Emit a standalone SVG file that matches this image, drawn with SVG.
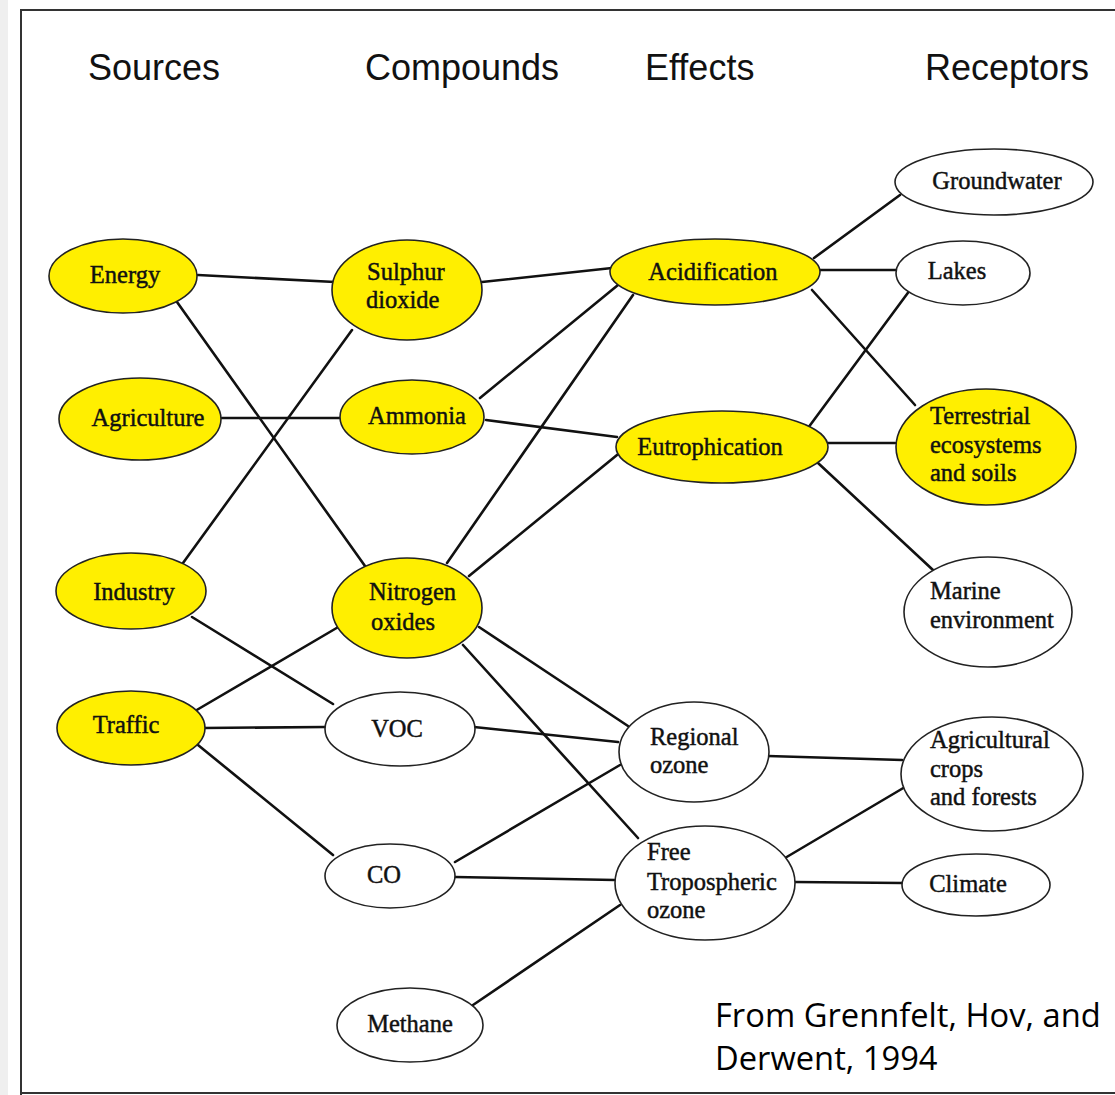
<svg xmlns="http://www.w3.org/2000/svg" width="1115" height="1095" viewBox="0 0 1115 1095">
<style>
.frame{stroke:#333;stroke-width:2;fill:none}
.hdr{font-family:"Liberation Sans",Arial,sans-serif;font-size:36px;fill:#111}
.cap{font-family:"Open Sans","Liberation Sans",sans-serif;font-size:32.7px;fill:#000}
.lbl{font-family:"Liberation Serif","Times New Roman",serif;font-size:24.5px;fill:#111;stroke:#111;stroke-width:0.45}
.mid{text-anchor:middle}
.y{fill:#FFEF00;stroke:#222;stroke-width:1.6}
.w{fill:#fff;stroke:#222;stroke-width:1.6}
#connectors line{stroke:#111;stroke-width:2.6;stroke-linecap:round}
</style>
<rect x="0" y="0" width="1115" height="1095" fill="#fff"/>
<rect x="0" y="0" width="8" height="1095" fill="#efefef"/>
<path class="frame" d="M1115 10 H21 V1095 M21 1093 H1115"/>
<g id="headers">
<text class="hdr" x="88" y="80">Sources</text>
<text class="hdr" x="365" y="80">Compounds</text>
<text class="hdr" x="645" y="80">Effects</text>
<text class="hdr" x="925" y="80">Receptors</text>
</g>
<g id="connectors">
<line x1="198" y1="275" x2="335" y2="282"/>
<line x1="177" y1="302" x2="365" y2="566"/>
<line x1="222" y1="418" x2="342" y2="418"/>
<line x1="183" y1="563" x2="352" y2="330"/>
<line x1="192" y1="617" x2="333" y2="704"/>
<line x1="195" y1="711" x2="340" y2="626"/>
<line x1="203" y1="728" x2="325" y2="727"/>
<line x1="198" y1="745" x2="333" y2="855"/>
<line x1="482" y1="282" x2="612" y2="268"/>
<line x1="480" y1="398" x2="618" y2="285"/>
<line x1="486" y1="420" x2="617" y2="437"/>
<line x1="447" y1="563" x2="633" y2="295"/>
<line x1="469" y1="576" x2="617" y2="455"/>
<line x1="479" y1="627" x2="628" y2="726"/>
<line x1="463" y1="645" x2="638" y2="838"/>
<line x1="474" y1="727" x2="618" y2="742"/>
<line x1="455" y1="862" x2="620" y2="765"/>
<line x1="455" y1="877" x2="615" y2="880"/>
<line x1="473" y1="1005" x2="620" y2="905"/>
<line x1="814" y1="258" x2="900" y2="195"/>
<line x1="818" y1="270" x2="897" y2="270"/>
<line x1="812" y1="290" x2="915" y2="405"/>
<line x1="808" y1="428" x2="910" y2="290"/>
<line x1="828" y1="443" x2="895" y2="443"/>
<line x1="818" y1="463" x2="933" y2="570"/>
<line x1="768" y1="756" x2="902" y2="760"/>
<line x1="785" y1="858" x2="905" y2="787"/>
<line x1="795" y1="882" x2="902" y2="883"/>
</g>
<g id="energy"><ellipse class="y" cx="123" cy="276" rx="74" ry="37"/><text class="lbl mid" x="125" y="283">Energy</text></g>
<g id="agriculture"><ellipse class="y" cx="140" cy="419" rx="81" ry="41"/><text class="lbl mid" x="148" y="426">Agriculture</text></g>
<g id="industry"><ellipse class="y" cx="131" cy="591" rx="75" ry="38"/><text class="lbl mid" x="134" y="600">Industry</text></g>
<g id="traffic"><ellipse class="y" cx="131" cy="728" rx="74" ry="37"/><text class="lbl mid" x="126" y="733">Traffic</text></g>
<g id="sulphur-dioxide"><ellipse class="y" cx="407" cy="290" rx="75" ry="50"/><text class="lbl" x="367" y="280">Sulphur</text><text class="lbl" x="366" y="308">dioxide</text></g>
<g id="ammonia"><ellipse class="y" cx="412" cy="417" rx="72" ry="37"/><text class="lbl mid" x="417" y="424">Ammonia</text></g>
<g id="nitrogen-oxides"><ellipse class="y" cx="407" cy="608" rx="75" ry="50"/><text class="lbl" x="369" y="600">Nitrogen</text><text class="lbl" x="371" y="630">oxides</text></g>
<g id="voc"><ellipse class="w" cx="400" cy="729" rx="75" ry="37"/><text class="lbl mid" x="397" y="737">VOC</text></g>
<g id="co"><ellipse class="w" cx="390" cy="876" rx="65" ry="32"/><text class="lbl mid" x="384" y="883">CO</text></g>
<g id="methane"><ellipse class="w" cx="410" cy="1025" rx="73" ry="37"/><text class="lbl mid" x="410" y="1032">Methane</text></g>
<g id="acidification"><ellipse class="y" cx="715" cy="272" rx="105" ry="33"/><text class="lbl mid" x="713" y="280">Acidification</text></g>
<g id="eutrophication"><ellipse class="y" cx="722" cy="447" rx="106" ry="36"/><text class="lbl mid" x="710" y="455">Eutrophication</text></g>
<g id="regional-ozone"><ellipse class="w" cx="694" cy="752" rx="75" ry="50"/><text class="lbl" x="650" y="745">Regional</text><text class="lbl" x="650" y="773">ozone</text></g>
<g id="free-tropospheric-ozone"><ellipse class="w" cx="705" cy="883" rx="90" ry="57"/><text class="lbl" x="647" y="860">Free</text><text class="lbl" x="647" y="890">Tropospheric</text><text class="lbl" x="647" y="918">ozone</text></g>
<g id="groundwater"><ellipse class="w" cx="994" cy="182" rx="99" ry="33"/><text class="lbl mid" x="997" y="189">Groundwater</text></g>
<g id="lakes"><ellipse class="w" cx="963" cy="273" rx="67" ry="32"/><text class="lbl mid" x="957" y="279">Lakes</text></g>
<g id="terrestrial"><ellipse class="y" cx="986" cy="447" rx="90" ry="58"/><text class="lbl" x="930" y="424">Terrestrial</text><text class="lbl" x="930" y="453">ecosystems</text><text class="lbl" x="930" y="481">and soils</text></g>
<g id="marine"><ellipse class="w" cx="988" cy="612" rx="84" ry="55"/><text class="lbl" x="930" y="599">Marine</text><text class="lbl" x="930" y="628">environment</text></g>
<g id="agricultural-crops"><ellipse class="w" cx="992" cy="774" rx="91" ry="57"/><text class="lbl" x="930" y="748">Agricultural</text><text class="lbl" x="930" y="777">crops</text><text class="lbl" x="930" y="805">and forests</text></g>
<g id="climate"><ellipse class="w" cx="976" cy="885" rx="74" ry="31"/><text class="lbl mid" x="968" y="892">Climate</text></g>
<g id="caption">
<text class="cap" x="715" y="1027">From Grennfelt, Hov, and</text>
<text class="cap" x="715" y="1070">Derwent, 1994</text>
</g>
</svg>
